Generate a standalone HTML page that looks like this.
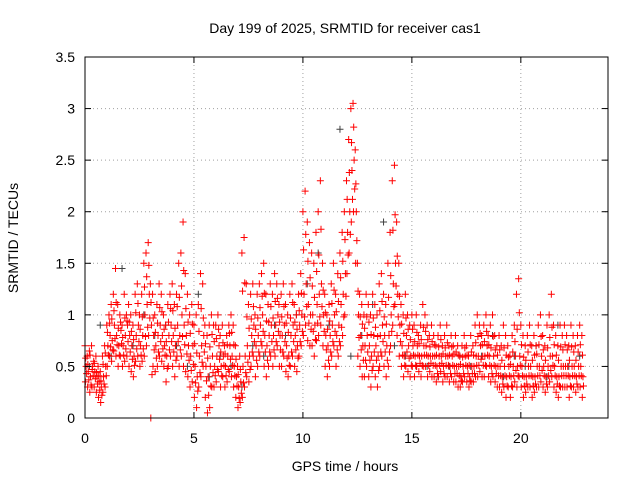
<!DOCTYPE html>
<html><head><meta charset="utf-8"><style>
body{margin:0;background:#fff;}
svg{display:block;font-family:"Liberation Sans",sans-serif;}
</style></head><body>
<svg id="chart" width="640" height="480" viewBox="0 0 640 480">
<rect x="0" y="0" width="640" height="480" fill="#fff"/>
<g id="grid"></g>
<g id="pts"></g>
<rect x="85" y="57" width="523" height="361" fill="none" stroke="#000" stroke-width="1"/>
<g id="ticks"></g>
<text x="345" y="33" text-anchor="middle" font-size="14">Day 199 of 2025, SRMTID for receiver cas1</text>
<text x="345" y="471" text-anchor="middle" font-size="14">GPS time / hours</text>
<text x="18" y="238" text-anchor="middle" font-size="14" transform="rotate(-90 18 238)">SRMTID / TECUs</text>
</svg>
<script>
const xTicks=[0,5,10,15,20];
const yTicks=[0,0.5,1,1.5,2,2.5,3,3.5];
const yTickLabels=["0","0.5","1","1.5","2","2.5","3","3.5"];
const tStart=0, tStep=0.1;
const redHi=[.7,.6,.65,.7,.55,.6,.5,.45,.6,.7,
.9,1.0,1.1,1.2,1.45,1.1,1.0,.9,1.2,1.0,
1.1,1.0,.9,1.2,1.3,1.0,1.2,1.5,1.6,1.7,
1.3,1.2,1.0,1.1,1.3,1.2,1.0,.9,1.1,1.2,
1.3,1.1,1.2,1.5,1.6,1.9,1.4,1.2,1.0,1.1,
.9,1.0,1.1,1.4,1.3,.9,.8,.9,1.0,.9,
.9,1.0,.8,.9,.7,.8,.9,1.0,.9,.7,
.5,.6,1.6,1.75,1.3,1.1,1.2,1.3,1.0,1.2,
1.3,1.4,1.5,1.2,1.1,1.3,1.2,1.4,1.3,1.1,
1.2,1.3,1.1,1.0,1.2,1.3,1.1,1.0,1.2,1.4,
2.0,2.2,1.9,1.7,1.6,1.5,1.8,2.0,2.3,1.5,
1.2,1.0,1.1,1.3,1.5,1.2,1.4,1.6,1.8,2.0,
2.3,2.7,3.0,3.05,2.6,1.5,1.2,1.1,1.0,1.2,
1.1,1.0,1.2,1.1,1.0,1.3,1.4,1.2,1.1,1.5,
1.8,2.3,2.45,1.9,1.5,1.1,1.0,1.2,1.0,.9,
1.0,.9,1.0,.8,.9,1.1,1.0,.9,.8,.9,
.8,.7,.8,.9,.7,.8,.9,.7,.8,.7,
.8,.7,.6,.7,.8,.7,.6,.8,.7,.9,
1.0,.9,.8,.9,1.0,.8,.9,1.0,.8,.7,
.8,.7,.9,.8,.7,.6,.8,.9,1.2,1.35,
.9,.8,.7,.8,.9,.7,.8,.7,.9,1.0,
.8,.7,.9,1.0,1.2,.9,.8,.7,.9,.8,
.9,.8,.7,.9,.8,.7,.8,.9,.8];
const redA=[.58,.52,.61,.47,.53,.44,.41,.36,.52,.63,
.83,.92,.96,1.04,1.12,.87,.93,.78,.97,.94,
.93,.84,.76,1.02,1.11,.86,.98,1.27,1.37,1.48,
1.12,.97,.83,.92,1.07,1.03,.86,.74,.93,1.06,
1.04,.87,1.08,1.17,1.28,1.43,1.06,.93,.82,.91,
.72,.63,.84,1.06,.97,.72,.58,.69,.81,.74,
.77,.86,.64,.73,.62,.71,.82,.83,.71,.57,
.42,.47,1.23,1.31,.98,.87,.96,1.08,.86,.97,
1.07,1.18,1.21,.94,.93,1.08,.97,1.13,1.16,.93,
.98,1.08,.92,.83,.97,1.12,.93,.86,1.04,1.21,
1.63,1.78,1.52,1.36,1.28,1.17,1.42,1.58,1.83,1.24,
1.02,.86,.94,1.11,1.24,1.03,1.13,1.36,1.52,1.73,
2.12,2.38,2.67,2.82,2.27,1.23,.98,.91,.87,.98,
.93,.81,.97,.88,.79,1.04,1.13,.98,.91,1.17,
1.38,1.82,1.97,1.57,1.18,.91,.82,.97,.86,.76,
.86,.74,.83,.72,.76,.88,.84,.76,.69,.74,
.71,.61,.69,.76,.62,.68,.73,.61,.69,.62,
.64,.61,.52,.59,.68,.61,.51,.64,.61,.73,
.79,.82,.71,.74,.84,.71,.68,.79,.66,.61,
.66,.56,.68,.61,.59,.52,.64,.74,.86,1.02,
.71,.59,.56,.64,.71,.56,.61,.62,.71,.79,
.66,.56,.68,.78,.88,.71,.61,.56,.69,.66,
.71,.66,.56,.69,.64,.56,.64,.71,.61];
const redMid=[.5,.45,.4,.5,.45,.4,.35,.3,.4,.5,
.7,.8,.75,.9,.8,.7,.85,.7,.8,.9,
.8,.7,.6,.8,.9,.7,.8,1.0,1.1,1.2,
.9,.8,.7,.8,.9,.8,.7,.6,.8,.9,
.8,.7,.9,.8,1.0,.9,.8,.7,.6,.7,
.5,.4,.6,.7,.8,.5,.4,.5,.6,.5,
.6,.7,.5,.6,.5,.6,.7,.6,.5,.4,
.3,.35,.5,.6,.7,.6,.8,.9,.7,.8,
.9,1.0,.8,.7,.8,.9,.8,.9,1.0,.8,
.8,.9,.7,.6,.8,.9,.8,.7,.9,1.0,
1.2,1.3,1.1,1.0,1.0,.9,1.1,1.2,1.3,1.0,
.8,.7,.8,.9,1.0,.8,.9,1.1,1.2,1.4,
1.8,2.0,2.4,2.5,2.0,1.0,.8,.7,.7,.8,
.7,.6,.8,.7,.6,.8,.9,.8,.7,.8,
1.0,1.3,1.5,1.2,.9,.7,.6,.8,.7,.6,
.7,.6,.7,.6,.6,.7,.7,.6,.6,.6,
.6,.5,.6,.6,.5,.6,.6,.5,.6,.5,
.5,.5,.4,.5,.6,.5,.4,.5,.5,.6,
.6,.7,.6,.6,.7,.6,.5,.6,.5,.5,
.5,.4,.5,.4,.5,.4,.5,.6,.5,.6,
.5,.4,.4,.5,.5,.4,.4,.5,.5,.6,
.5,.4,.5,.6,.6,.5,.4,.4,.5,.5,
.5,.5,.4,.5,.5,.4,.5,.5,.4];
const redB=[.43,.37,.32,.41,.38,.33,.27,.22,.33,.41,
.61,.69,.66,.77,.71,.61,.72,.61,.67,.74,
.64,.57,.51,.67,.74,.61,.67,.79,.88,.97,
.42,.66,.58,.64,.74,.67,.61,.48,.66,.74,
.64,.56,.74,.66,.79,.71,.62,.56,.46,.52,
.34,.26,.44,.54,.64,.36,.22,.31,.44,.41,
.47,.57,.41,.51,.41,.47,.57,.51,.41,.31,
.19,.24,.34,.44,.54,.47,.64,.74,.56,.64,
.74,.84,.64,.56,.64,.74,.66,.74,.84,.66,
.64,.74,.58,.51,.64,.74,.66,.58,.74,.84,
.98,1.08,.92,.86,.84,.76,.92,.98,1.08,.84,
.66,.56,.64,.74,.84,.66,.74,.88,.98,1.18,
1.58,1.78,2.12,2.22,1.72,.78,.66,.56,.56,.64,
.56,.46,.64,.56,.46,.64,.74,.64,.56,.64,
.84,1.08,1.28,.98,.74,.61,.51,.64,.58,.51,
.61,.51,.61,.53,.51,.61,.61,.51,.53,.51,
.51,.43,.51,.53,.43,.51,.51,.43,.51,.43,
.43,.41,.36,.43,.51,.43,.36,.43,.43,.51,
.51,.57,.51,.51,.61,.51,.43,.51,.43,.41,
.41,.33,.41,.31,.41,.31,.41,.46,.41,.51,
.41,.31,.33,.41,.41,.31,.33,.41,.41,.46,
.41,.33,.41,.46,.51,.41,.33,.31,.41,.41,
.41,.41,.31,.41,.41,.33,.41,.41,.31];
const redLo=[.35,.3,.25,.3,.3,.25,.2,.15,.25,.3,
.5,.6,.55,.65,.6,.5,.6,.5,.55,.6,
.5,.45,.4,.55,.6,.5,.55,.6,.7,.8,
.0,.5,.45,.5,.6,.55,.5,.35,.5,.6,
.5,.4,.6,.5,.6,.5,.45,.4,.3,.35,
.2,.1,.3,.4,.5,.2,.05,.1,.3,.3,
.35,.45,.3,.4,.3,.35,.45,.4,.3,.2,
.1,.15,.2,.3,.4,.35,.5,.6,.4,.5,
.6,.7,.5,.4,.5,.6,.5,.6,.7,.5,
.5,.6,.45,.4,.5,.6,.5,.45,.6,.7,
.8,.9,.75,.7,.7,.6,.75,.8,.9,.7,
.5,.4,.5,.6,.7,.5,.6,.7,.8,1.0,
1.4,1.6,1.9,2.0,1.5,.6,.5,.4,.4,.5,
.4,.3,.5,.4,.3,.5,.6,.5,.4,.5,
.7,.9,1.1,.8,.6,.5,.4,.5,.45,.4,
.5,.4,.5,.45,.4,.5,.5,.4,.45,.4,
.4,.35,.4,.45,.35,.4,.4,.35,.4,.35,
.35,.3,.3,.35,.4,.35,.3,.35,.35,.4,
.4,.45,.4,.4,.5,.4,.35,.4,.35,.3,
.3,.25,.3,.2,.3,.2,.3,.35,.3,.4,
.3,.2,.25,.3,.3,.2,.25,.3,.3,.35,
.3,.25,.3,.35,.4,.3,.25,.2,.3,.3,
.3,.3,.2,.3,.3,.25,.3,.3,.2];
const grayStart=0.2, grayStep=0.5;
const grayVals=[.5,.9,.6,1.45,.7,1.0,.8,.9,.7,.5,1.2,.4,.6,.5,.3,.7,.6,.9,.8,1.0,1.3,1.6,.9,2.8,.6,.8,1.1,1.9,.7,.6,.5,.5,.4,.5,.6,.5,.6,.8,.4,.6,.5,.7,.4,.9,.5,.6];

const X0=85,X1=608,Y0=418,Y1=57,XMAX=24,YMAX=3.5;
const sx=v=>X0+v/XMAX*(X1-X0);
const sy=v=>Y0-v/YMAX*(Y0-Y1);
const NS="http://www.w3.org/2000/svg";
const grid=document.getElementById('grid'),ticks=document.getElementById('ticks'),pts=document.getElementById('pts');
function mk(tag,attrs,parent){const e=document.createElementNS(NS,tag);for(const k in attrs)e.setAttribute(k,attrs[k]);parent.appendChild(e);return e;}
yTicks.forEach((v,i)=>{
  const y=sy(v);
  if(v>0&&v<YMAX){const g=mk('line',{x1:X0,x2:X1,y1:y,y2:y,stroke:'#a0a0a0','stroke-dasharray':'1,3'},grid);
  
  }
  const t=mk('line',{x1:X0,x2:X0+6,y1:y,y2:y,stroke:'#000'},ticks);
  
  
  const t2=mk('line',{x1:X1,x2:X1-6,y1:y,y2:y,stroke:'#000'},ticks);
  
  
  const l=mk('text',{x:X0-10,y:y+5,'text-anchor':'end','font-size':'14'},ticks);
  l.textContent=yTickLabels[i];
  
  
});
xTicks.forEach(v=>{
  const x=sx(v);
  if(v>0){const g=mk('line',{x1:x,x2:x,y1:Y0,y2:Y1,stroke:'#a0a0a0','stroke-dasharray':'1,3'},grid);
  
  }
  const t=mk('line',{x1:x,x2:x,y1:Y0,y2:Y0-6,stroke:'#000'},ticks);
  
  
  const t2=mk('line',{x1:x,x2:x,y1:Y1,y2:Y1+6,stroke:'#000'},ticks);
  
  
  const l=mk('text',{x:x,y:Y0+25,'text-anchor':'middle','font-size':'14'},ticks);
  l.textContent=String(v);
  
  
});
function plus(t,v,color,name){
  const x=sx(t),y=sy(v);
  const p=mk('path',{d:`M${x-3.5},${y}H${x+3.5}M${x},${y-3.5}V${y+3.5}`,stroke:color,'stroke-width':'1'},pts);
  
  
}
grayVals.forEach((v,i)=>plus(grayStart+i*grayStep,v,'#404040','gray-point'));
[[redHi,0],[redA,0.03],[redMid,0.05],[redB,0.075],[redLo,0.02]].forEach(([arr,off])=>{
  arr.forEach((v,i)=>plus(tStart+i*tStep+off,v,'#ff0000','red-point'));
});
</script>
</body></html>
